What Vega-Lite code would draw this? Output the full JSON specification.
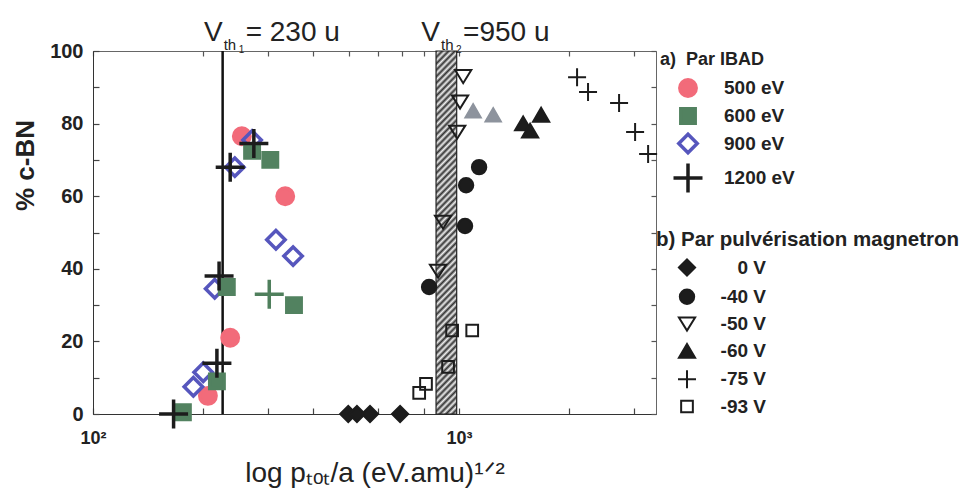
{
  "$schema": "https://vega.github.io/schema/vega-lite/v6.json",
  "width": 563,
  "height": 363,
  "autosize": {"type": "none"},
  "padding": {"left": 93, "top": 51, "right": 308, "bottom": 81},
  "background": "white",
  "config": {"font": "Liberation Sans", "view": {"stroke": "#666", "strokeWidth": 1}, "axis": {"ticks": true, "zindex": 1}},
  "datasets": {
    "band": [{"lo": 865, "hi": 985}],
    "line": [{"x": 226}],
    "labels": [
      {"x": 226, "sub": "1", "text": "= 230 u"},
      {"x": 887, "sub": "2", "text": "=950 u"}
    ],
    "ibad": [
      {"x": 255, "y": 76.5, "series": "500 eV"},
      {"x": 335, "y": 60, "series": "500 eV"},
      {"x": 237, "y": 21, "series": "500 eV"},
      {"x": 206, "y": 5, "series": "500 eV"},
      {"x": 272, "y": 75.5, "series": "900 eV"},
      {"x": 244, "y": 68, "series": "900 eV"},
      {"x": 316, "y": 48, "series": "900 eV"},
      {"x": 352, "y": 43.5, "series": "900 eV"},
      {"x": 215, "y": 34.5, "series": "900 eV"},
      {"x": 200, "y": 11.5, "series": "900 eV"},
      {"x": 188, "y": 7.5, "series": "900 eV"},
      {"x": 272, "y": 72.5, "series": "600 eV"},
      {"x": 305, "y": 70, "series": "600 eV"},
      {"x": 232, "y": 35, "series": "600 eV"},
      {"x": 354, "y": 30, "series": "600 eV"},
      {"x": 218, "y": 9, "series": "600 eV"},
      {"x": 176, "y": 0.5, "series": "600 eV"},
      {"x": 275, "y": 74.5, "series": "1200 eV"},
      {"x": 237, "y": 68, "series": "1200 eV"},
      {"x": 221, "y": 38, "series": "1200 eV"},
      {"x": 218, "y": 14, "series": "1200 eV"},
      {"x": 166, "y": 0, "series": "1200 eV"}
    ],
    "extra": [
      {"x": 303, "y": 33, "kind": "green"},
      {"x": 1092, "y": 83.5, "kind": "grey"},
      {"x": 1239, "y": 82.4, "kind": "grey"}
    ],
    "mag": [
      {"x": 498, "y": 0, "series": "0 V"},
      {"x": 526, "y": 0, "series": "0 V"},
      {"x": 571, "y": 0, "series": "0 V"},
      {"x": 690, "y": 0, "series": "0 V"},
      {"x": 1134, "y": 68, "series": "-40 V"},
      {"x": 1045, "y": 63, "series": "-40 V"},
      {"x": 1038, "y": 51.8, "series": "-40 V"},
      {"x": 828, "y": 35, "series": "-40 V"},
      {"x": 1026, "y": 93, "series": "-50 V"},
      {"x": 1006, "y": 86, "series": "-50 V"},
      {"x": 988, "y": 77.7, "series": "-50 V"},
      {"x": 904, "y": 52.9, "series": "-50 V"},
      {"x": 876, "y": 39.4, "series": "-50 V"},
      {"x": 1496, "y": 80, "series": "-60 V"},
      {"x": 1563, "y": 78, "series": "-60 V"},
      {"x": 1675, "y": 82.4, "series": "-60 V"},
      {"x": 2100, "y": 92.8, "series": "-75 V"},
      {"x": 2250, "y": 88.7, "series": "-75 V"},
      {"x": 2735, "y": 85.7, "series": "-75 V"},
      {"x": 3025, "y": 77.7, "series": "-75 V"},
      {"x": 3283, "y": 71.6, "series": "-75 V"},
      {"x": 957, "y": 23, "series": "-93 V"},
      {"x": 1086, "y": 23, "series": "-93 V"},
      {"x": 933, "y": 13, "series": "-93 V"},
      {"x": 812, "y": 8.3, "series": "-93 V"},
      {"x": 778, "y": 5.8, "series": "-93 V"}
    ]
  },
  "layer": [
    {
      "data": {"name": "band"},
      "mark": {
        "type": "rect",
        "stroke": "#222",
        "strokeWidth": 1.2,
        "fill": {
          "gradient": "linear", "x1": 0, "y1": 0, "x2": 0.0615, "y2": 1.06,
          "stops": [
            {"offset": 0, "color": "#333"}, {"offset": 0.0083, "color": "#eee"}, {"offset": 0.0167, "color": "#333"}, {"offset": 0.025, "color": "#eee"}, {"offset": 0.0333, "color": "#333"}, {"offset": 0.0417, "color": "#eee"}, {"offset": 0.05, "color": "#333"}, {"offset": 0.0583, "color": "#eee"}, {"offset": 0.0667, "color": "#333"}, {"offset": 0.075, "color": "#eee"}, {"offset": 0.0833, "color": "#333"}, {"offset": 0.0917, "color": "#eee"},
            {"offset": 0.1, "color": "#333"}, {"offset": 0.1083, "color": "#eee"}, {"offset": 0.1167, "color": "#333"}, {"offset": 0.125, "color": "#eee"}, {"offset": 0.1333, "color": "#333"}, {"offset": 0.1417, "color": "#eee"}, {"offset": 0.15, "color": "#333"}, {"offset": 0.1583, "color": "#eee"}, {"offset": 0.1667, "color": "#333"}, {"offset": 0.175, "color": "#eee"}, {"offset": 0.1833, "color": "#333"}, {"offset": 0.1917, "color": "#eee"},
            {"offset": 0.2, "color": "#333"}, {"offset": 0.2083, "color": "#eee"}, {"offset": 0.2167, "color": "#333"}, {"offset": 0.225, "color": "#eee"}, {"offset": 0.2333, "color": "#333"}, {"offset": 0.2417, "color": "#eee"}, {"offset": 0.25, "color": "#333"}, {"offset": 0.2583, "color": "#eee"}, {"offset": 0.2667, "color": "#333"}, {"offset": 0.275, "color": "#eee"}, {"offset": 0.2833, "color": "#333"}, {"offset": 0.2917, "color": "#eee"},
            {"offset": 0.3, "color": "#333"}, {"offset": 0.3083, "color": "#eee"}, {"offset": 0.3167, "color": "#333"}, {"offset": 0.325, "color": "#eee"}, {"offset": 0.3333, "color": "#333"}, {"offset": 0.3417, "color": "#eee"}, {"offset": 0.35, "color": "#333"}, {"offset": 0.3583, "color": "#eee"}, {"offset": 0.3667, "color": "#333"}, {"offset": 0.375, "color": "#eee"}, {"offset": 0.3833, "color": "#333"}, {"offset": 0.3917, "color": "#eee"},
            {"offset": 0.4, "color": "#333"}, {"offset": 0.4083, "color": "#eee"}, {"offset": 0.4167, "color": "#333"}, {"offset": 0.425, "color": "#eee"}, {"offset": 0.4333, "color": "#333"}, {"offset": 0.4417, "color": "#eee"}, {"offset": 0.45, "color": "#333"}, {"offset": 0.4583, "color": "#eee"}, {"offset": 0.4667, "color": "#333"}, {"offset": 0.475, "color": "#eee"}, {"offset": 0.4833, "color": "#333"}, {"offset": 0.4917, "color": "#eee"},
            {"offset": 0.5, "color": "#333"}, {"offset": 0.5083, "color": "#eee"}, {"offset": 0.5167, "color": "#333"}, {"offset": 0.525, "color": "#eee"}, {"offset": 0.5333, "color": "#333"}, {"offset": 0.5417, "color": "#eee"}, {"offset": 0.55, "color": "#333"}, {"offset": 0.5583, "color": "#eee"}, {"offset": 0.5667, "color": "#333"}, {"offset": 0.575, "color": "#eee"}, {"offset": 0.5833, "color": "#333"}, {"offset": 0.5917, "color": "#eee"},
            {"offset": 0.6, "color": "#333"}, {"offset": 0.6083, "color": "#eee"}, {"offset": 0.6167, "color": "#333"}, {"offset": 0.625, "color": "#eee"}, {"offset": 0.6333, "color": "#333"}, {"offset": 0.6417, "color": "#eee"}, {"offset": 0.65, "color": "#333"}, {"offset": 0.6583, "color": "#eee"}, {"offset": 0.6667, "color": "#333"}, {"offset": 0.675, "color": "#eee"}, {"offset": 0.6833, "color": "#333"}, {"offset": 0.6917, "color": "#eee"},
            {"offset": 0.7, "color": "#333"}, {"offset": 0.7083, "color": "#eee"}, {"offset": 0.7167, "color": "#333"}, {"offset": 0.725, "color": "#eee"}, {"offset": 0.7333, "color": "#333"}, {"offset": 0.7417, "color": "#eee"}, {"offset": 0.75, "color": "#333"}, {"offset": 0.7583, "color": "#eee"}, {"offset": 0.7667, "color": "#333"}, {"offset": 0.775, "color": "#eee"}, {"offset": 0.7833, "color": "#333"}, {"offset": 0.7917, "color": "#eee"},
            {"offset": 0.8, "color": "#333"}, {"offset": 0.8083, "color": "#eee"}, {"offset": 0.8167, "color": "#333"}, {"offset": 0.825, "color": "#eee"}, {"offset": 0.8333, "color": "#333"}, {"offset": 0.8417, "color": "#eee"}, {"offset": 0.85, "color": "#333"}, {"offset": 0.8583, "color": "#eee"}, {"offset": 0.8667, "color": "#333"}, {"offset": 0.875, "color": "#eee"}, {"offset": 0.8833, "color": "#333"}, {"offset": 0.8917, "color": "#eee"},
            {"offset": 0.9, "color": "#333"}, {"offset": 0.9083, "color": "#eee"}, {"offset": 0.9167, "color": "#333"}, {"offset": 0.925, "color": "#eee"}, {"offset": 0.9333, "color": "#333"}, {"offset": 0.9417, "color": "#eee"}, {"offset": 0.95, "color": "#333"}, {"offset": 0.9583, "color": "#eee"}, {"offset": 0.9667, "color": "#333"}, {"offset": 0.975, "color": "#eee"}, {"offset": 0.9833, "color": "#333"}, {"offset": 0.9917, "color": "#eee"},
            {"offset": 1, "color": "#333"}
          ]
        }
      },
      "encoding": {
        "x": {"field": "lo", "type": "quantitative", "scale": {"type": "log", "domain": [100, 3450], "nice": false}, "axis": null},
        "x2": {"field": "hi"}
      }
    },
    {
      "data": {"name": "line"},
      "mark": {"type": "rule", "color": "#111", "strokeWidth": 2.5},
      "encoding": {
        "x": {"field": "x", "type": "quantitative", "scale": {"type": "log", "domain": [100, 3450], "nice": false}, "axis": null}
      }
    },
    {
      "data": {"name": "ibad"},
      "mark": {"type": "point", "filled": true, "size": 400, "strokeWidth": 3.5, "opacity": 1},
      "encoding": {
        "x": {
          "field": "x", "type": "quantitative",
          "scale": {"type": "log", "domain": [100, 3450], "nice": false},
          "axis": {
            "orient": "bottom",
            "values": [100, 200, 300, 400, 500, 600, 700, 800, 900, 1000, 2000, 3000],
            "labelExpr": "datum.value == 100 ? '10²' : (datum.value == 1000 ? '10³' : '')",
            "labelOverlap": false, "labelFlush": false,
            "ticks": true, "tickSize": -6, "tickWidth": 1.2, "tickColor": "#444",
            "domainColor": "#333", "grid": false,
            "labelFont": "Liberation Sans", "labelFontSize": 18, "labelFontWeight": "bold", "labelColor": "#222", "labelPadding": 21,
            "title": "log pₜₒₜ/a (eV.amu)¹ᐟ²",
            "titleFont": "Liberation Sans", "titleFontSize": 28, "titleFontWeight": "normal", "titleColor": "#222",
            "titleBaseline": "alphabetic", "titleY": 67
          }
        },
        "y": {
          "field": "y", "type": "quantitative",
          "scale": {"domain": [0, 100], "nice": false},
          "axis": {
            "orient": "left",
            "values": [0, 10, 20, 30, 40, 50, 60, 70, 80, 90, 100],
            "labelExpr": "datum.value % 20 == 0 ? datum.label : ''",
            "labelOverlap": false, "labelFlush": false,
            "ticks": true, "tickSize": -6, "tickWidth": 1.2, "tickColor": "#444",
            "domainColor": "#333", "grid": false,
            "labelFont": "Liberation Sans", "labelFontSize": 20, "labelFontWeight": "bold", "labelColor": "#222", "labelPadding": 16,
            "title": "% c-BN",
            "titleFont": "Liberation Sans", "titleFontSize": 26, "titleFontWeight": "bold", "titleColor": "#222",
            "titleX": -68, "titleY": 114, "titleAlign": "center", "titleBaseline": "middle", "titleAngle": -90
          }
        },
        "shape": {
          "field": "series", "type": "nominal",
          "scale": {
            "domain": ["500 eV", "600 eV", "900 eV", "1200 eV"],
            "range": [
              "M-0.82,0A0.82,0.82 0 1,0 0.82,0A0.82,0.82 0 1,0 -0.82,0Z",
              "M-0.72,-0.72H0.72V0.72H-0.72Z",
              "M-0.92,0L0,-0.92L0.92,0L0,0.92Z",
              "M-1.45,0H1.45M0,-1.45V1.45"
            ]
          },
          "legend": {"title": "a)\u00a0\u00a0Par IBAD", "orient": "none", "legendX": 567, "legendY": 0, "padding": 0, "symbolSize": 400, "symbolStrokeWidth": 3.5, "symbolOffset": 16, "labelOffset": 24, "rowPadding": -4.5, "titlePadding": 7, "titleLimit": 400, "labelFont": "Liberation Sans", "labelFontSize": 19, "labelFontWeight": "bold", "labelColor": "#222", "titleFont": "Liberation Sans", "titleFontSize": 18, "titleFontWeight": "bold", "titleColor": "#222"}
        },
        "fill": {
          "field": "series", "type": "nominal",
          "scale": {"domain": ["500 eV", "600 eV", "900 eV", "1200 eV"], "range": ["#f26b7a", "#528260", "transparent", "transparent"]},
          "legend": {"title": "a)\u00a0\u00a0Par IBAD", "orient": "none", "legendX": 567, "legendY": 0, "padding": 0, "symbolSize": 400, "symbolStrokeWidth": 3.5, "symbolOffset": 16, "labelOffset": 24, "rowPadding": -4.5, "titlePadding": 7, "titleLimit": 400, "labelFont": "Liberation Sans", "labelFontSize": 19, "labelFontWeight": "bold", "labelColor": "#222", "titleFont": "Liberation Sans", "titleFontSize": 18, "titleFontWeight": "bold", "titleColor": "#222"}
        },
        "stroke": {
          "field": "series", "type": "nominal",
          "scale": {"domain": ["500 eV", "600 eV", "900 eV", "1200 eV"], "range": ["#f26b7a", "#528260", "#5656bd", "#1c1c1c"]},
          "legend": {"title": "a)\u00a0\u00a0Par IBAD", "orient": "none", "legendX": 567, "legendY": 0, "padding": 0, "symbolSize": 400, "symbolStrokeWidth": 3.5, "symbolOffset": 16, "labelOffset": 24, "rowPadding": -4.5, "titlePadding": 7, "titleLimit": 400, "labelFont": "Liberation Sans", "labelFontSize": 19, "labelFontWeight": "bold", "labelColor": "#222", "titleFont": "Liberation Sans", "titleFontSize": 18, "titleFontWeight": "bold", "titleColor": "#222"}
        }
      }
    },
    {
      "data": {"name": "extra"},
      "transform": [{"filter": "datum.kind == 'green'"}],
      "mark": {"type": "point", "filled": false, "shape": "M-1.45,0H1.45M0,-1.45V1.45", "size": 400, "stroke": "#4f7f5c", "strokeWidth": 3.5, "opacity": 1},
      "encoding": {
        "x": {"field": "x", "type": "quantitative", "scale": {"type": "log", "domain": [100, 3450], "nice": false}, "axis": null},
        "y": {"field": "y", "type": "quantitative", "scale": {"domain": [0, 100], "nice": false}, "axis": null}
      }
    },
    {
      "data": {"name": "extra"},
      "transform": [{"filter": "datum.kind == 'grey'"}],
      "mark": {"type": "point", "filled": true, "shape": "M0,-0.8L0.9,0.75L-0.9,0.75Z", "size": 324, "fill": "#8d939d", "stroke": "#8d939d", "strokeWidth": 1.5, "opacity": 1},
      "encoding": {
        "x": {"field": "x", "type": "quantitative", "scale": {"type": "log", "domain": [100, 3450], "nice": false}, "axis": null},
        "y": {"field": "y", "type": "quantitative", "scale": {"domain": [0, 100], "nice": false}, "axis": null}
      }
    },
    {
      "data": {"name": "mag"},
      "mark": {"type": "point", "filled": true, "size": 324, "strokeWidth": 2, "opacity": 1},
      "encoding": {
        "x": {
          "field": "x", "type": "quantitative",
          "scale": {"type": "log", "domain": [100, 3450], "nice": false},
          "axis": {
            "orient": "top", "values": [100, 200, 300, 400, 500, 600, 700, 800, 900, 1000, 2000, 3000],
            "labels": false, "domain": false, "title": null, "grid": false,
            "ticks": true, "tickSize": -5, "tickWidth": 1.2, "tickColor": "#555"
          }
        },
        "y": {
          "field": "y", "type": "quantitative",
          "scale": {"domain": [0, 100], "nice": false},
          "axis": {
            "orient": "right", "values": [0, 10, 20, 30, 40, 50, 60, 70, 80, 90, 100],
            "labels": false, "domain": false, "title": null, "grid": false,
            "ticks": true, "tickSize": -5, "tickWidth": 1.2, "tickColor": "#555"
          }
        },
        "shape": {
          "field": "series", "type": "nominal",
          "scale": {
            "domain": ["0 V", "-40 V", "-50 V", "-60 V", "-75 V", "-93 V"],
            "range": [
              "M-0.9,0L0,-0.9L0.9,0L0,0.9Z",
              "M-0.8,0A0.8,0.8 0 1,0 0.8,0A0.8,0.8 0 1,0 -0.8,0Z",
              "M-0.9,-0.7L0.9,-0.7L0,0.75Z",
              "M0,-0.8L0.9,0.75L-0.9,0.75Z",
              "M-1,0H1M0,-1V1",
              "M-0.65,-0.65H0.65V0.65H-0.65Z"
            ]
          },
          "legend": {"title": "b) Par pulvérisation magnetron", "orient": "none", "legendX": 563, "legendY": 179, "padding": 0, "symbolSize": 324, "symbolStrokeWidth": 2, "symbolOffset": 21, "labelOffset": 69, "labelAlign": "right", "rowPadding": 4.2, "titlePadding": 7, "titleLimit": 400, "labelFont": "Liberation Sans", "labelFontSize": 19, "labelFontWeight": "bold", "labelColor": "#222", "titleFont": "Liberation Sans", "titleFontSize": 20.5, "titleFontWeight": "bold", "titleColor": "#222"}
        },
        "fill": {
          "field": "series", "type": "nominal",
          "scale": {"domain": ["0 V", "-40 V", "-50 V", "-60 V", "-75 V", "-93 V"], "range": ["#1c1c1c", "#1c1c1c", "transparent", "#1c1c1c", "transparent", "transparent"]},
          "legend": {"title": "b) Par pulvérisation magnetron", "orient": "none", "legendX": 563, "legendY": 179, "padding": 0, "symbolSize": 324, "symbolStrokeWidth": 2, "symbolOffset": 21, "labelOffset": 69, "labelAlign": "right", "rowPadding": 4.2, "titlePadding": 7, "titleLimit": 400, "labelFont": "Liberation Sans", "labelFontSize": 19, "labelFontWeight": "bold", "labelColor": "#222", "titleFont": "Liberation Sans", "titleFontSize": 20.5, "titleFontWeight": "bold", "titleColor": "#222"}
        },
        "stroke": {
          "field": "series", "type": "nominal",
          "scale": {"domain": ["0 V", "-40 V", "-50 V", "-60 V", "-75 V", "-93 V"], "range": ["#1c1c1c", "#1c1c1c", "#1c1c1c", "#1c1c1c", "#1c1c1c", "#1c1c1c"]},
          "legend": {"title": "b) Par pulvérisation magnetron", "orient": "none", "legendX": 563, "legendY": 179, "padding": 0, "symbolSize": 324, "symbolStrokeWidth": 2, "symbolOffset": 21, "labelOffset": 69, "labelAlign": "right", "rowPadding": 4.2, "titlePadding": 7, "titleLimit": 400, "labelFont": "Liberation Sans", "labelFontSize": 19, "labelFontWeight": "bold", "labelColor": "#222", "titleFont": "Liberation Sans", "titleFontSize": 20.5, "titleFontWeight": "bold", "titleColor": "#222"}
        }
      }
    },
    {
      "data": {"name": "labels"},
      "mark": {"type": "text", "text": "V", "font": "Liberation Sans", "fontSize": 28, "align": "right", "baseline": "alphabetic", "dy": -10, "color": "#222"},
      "encoding": {
        "x": {"field": "x", "type": "quantitative", "scale": {"type": "log", "domain": [100, 3450], "nice": false}, "axis": null},
        "y": {"datum": 100, "type": "quantitative", "scale": {"domain": [0, 100], "nice": false}, "axis": null}
      }
    },
    {
      "data": {"name": "labels"},
      "mark": {"type": "text", "text": "th", "font": "Liberation Sans", "fontSize": 15, "align": "left", "baseline": "alphabetic", "dx": 1, "dy": -1, "color": "#222"},
      "encoding": {
        "x": {"field": "x", "type": "quantitative", "scale": {"type": "log", "domain": [100, 3450], "nice": false}, "axis": null},
        "y": {"datum": 100, "type": "quantitative", "scale": {"domain": [0, 100], "nice": false}, "axis": null}
      }
    },
    {
      "data": {"name": "labels"},
      "mark": {"type": "text", "font": "Liberation Sans", "fontSize": 10, "align": "left", "baseline": "alphabetic", "dx": 16, "dy": 2, "color": "#222"},
      "encoding": {
        "x": {"field": "x", "type": "quantitative", "scale": {"type": "log", "domain": [100, 3450], "nice": false}, "axis": null},
        "y": {"datum": 100, "type": "quantitative", "scale": {"domain": [0, 100], "nice": false}, "axis": null},
        "text": {"field": "sub"}
      }
    },
    {
      "data": {"name": "labels"},
      "mark": {"type": "text", "font": "Liberation Sans", "fontSize": 28, "align": "left", "baseline": "alphabetic", "dx": 23, "dy": -10, "color": "#222"},
      "encoding": {
        "x": {"field": "x", "type": "quantitative", "scale": {"type": "log", "domain": [100, 3450], "nice": false}, "axis": null},
        "y": {"datum": 100, "type": "quantitative", "scale": {"domain": [0, 100], "nice": false}, "axis": null},
        "text": {"field": "text"}
      }
    }
  ],
  "resolve": {
    "scale": {"shape": "independent", "fill": "independent", "stroke": "independent"},
    "axis": {"x": "independent", "y": "independent"}
  }
}
